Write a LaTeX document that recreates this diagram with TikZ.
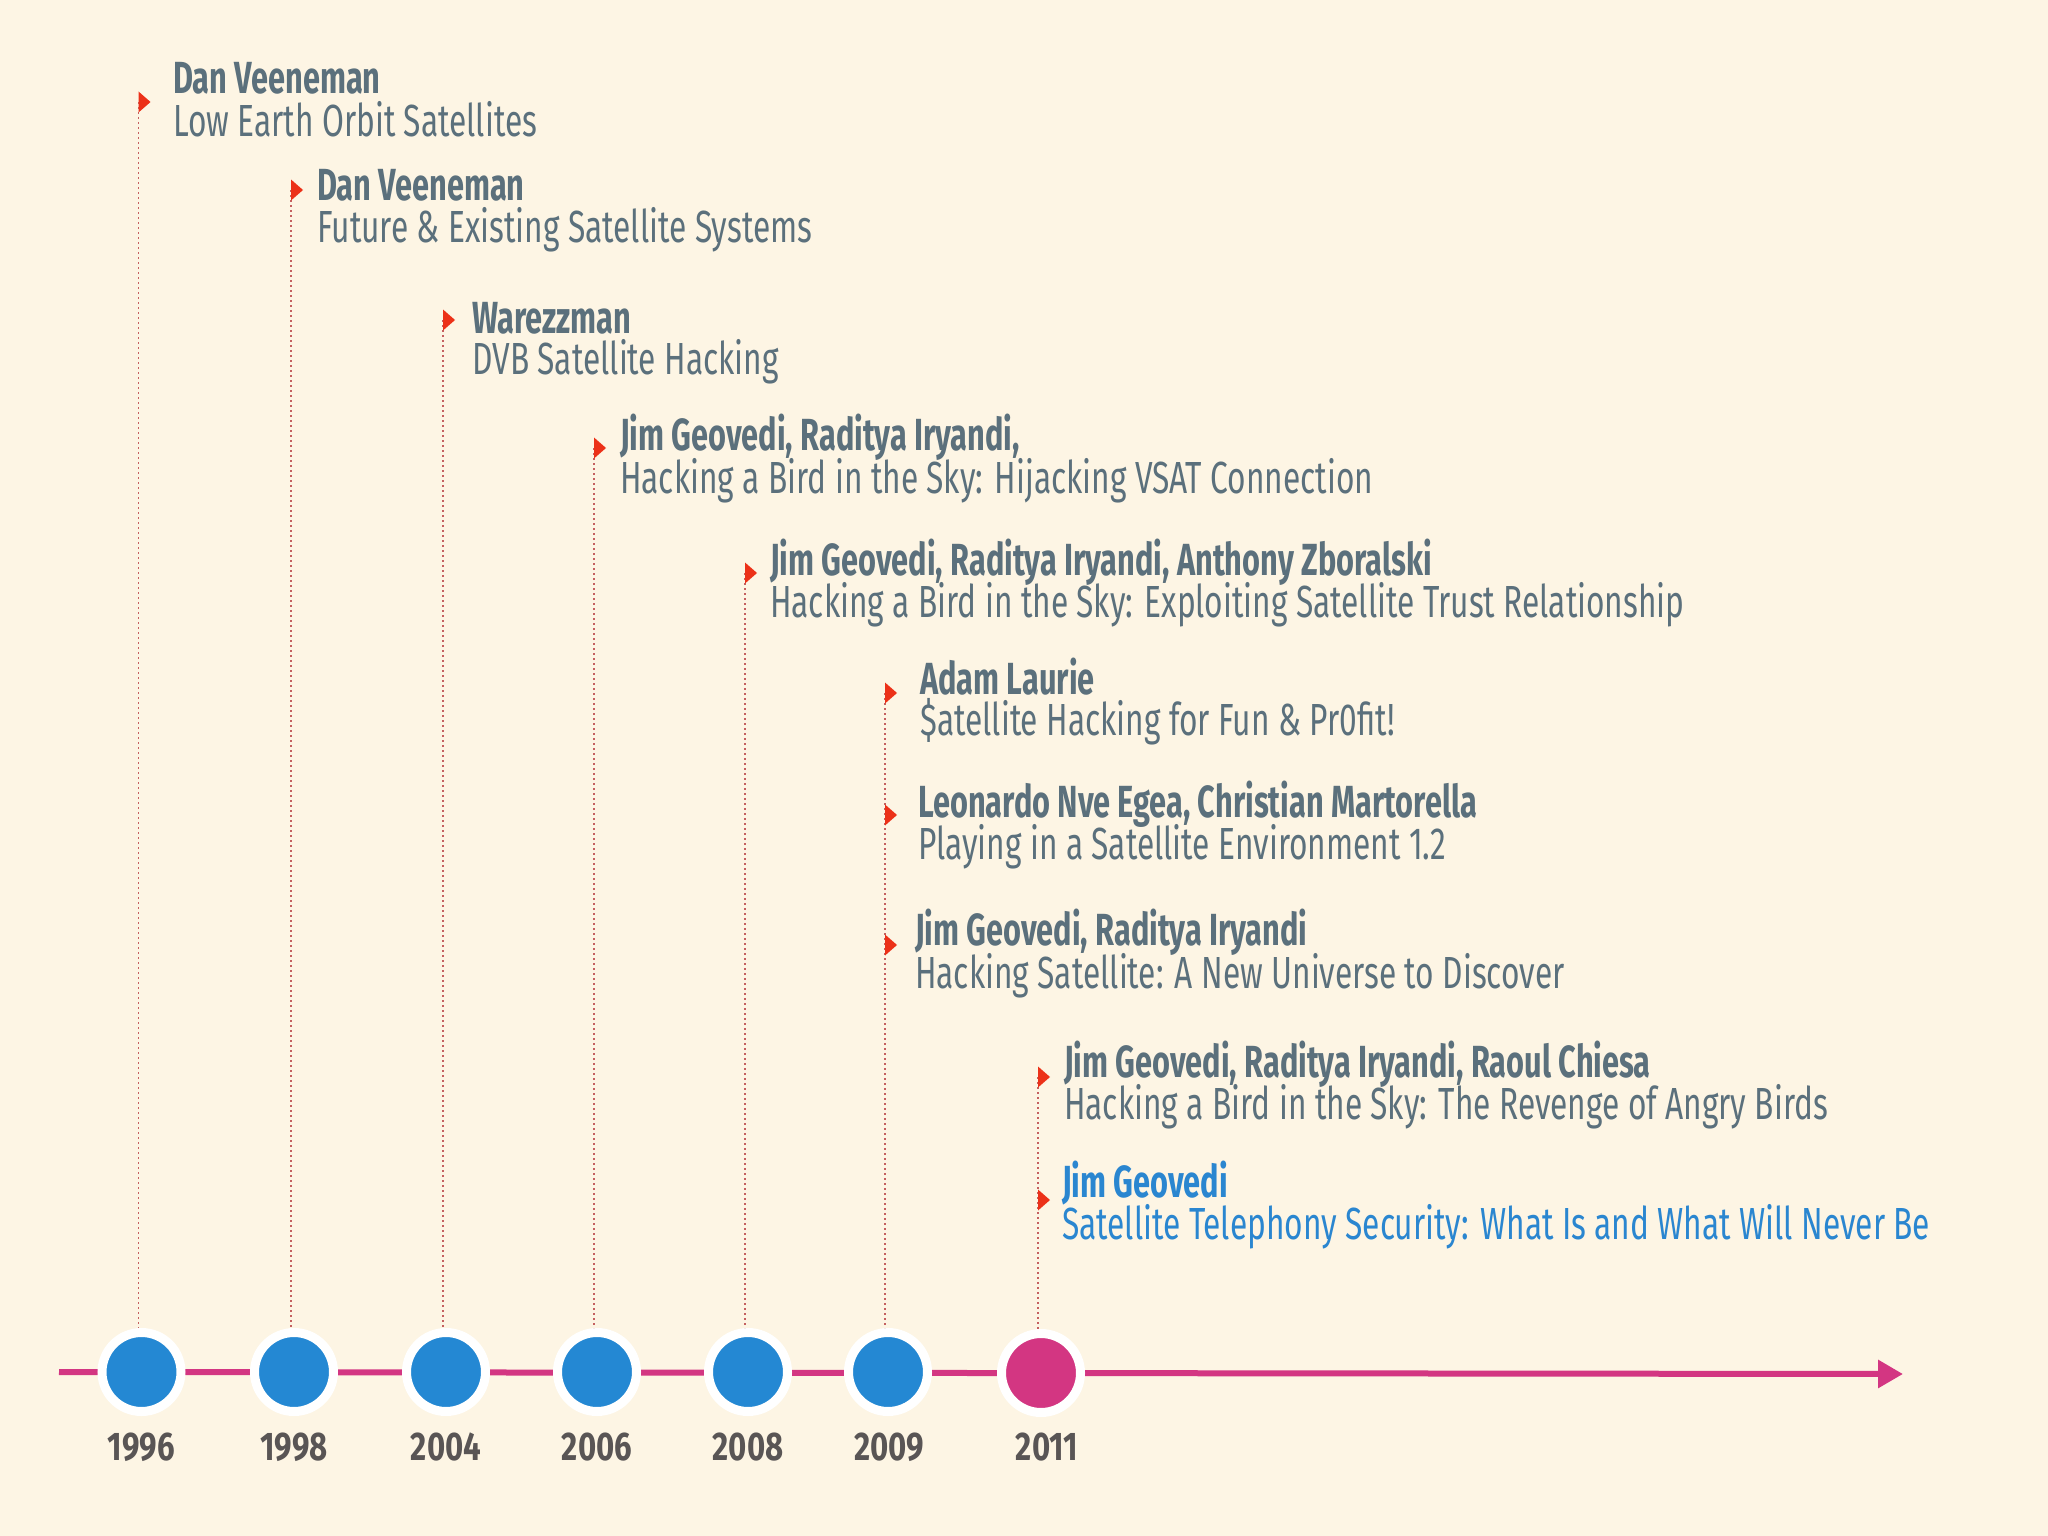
\documentclass[tikz,border=0pt]{standalone}
\usepackage{fontspec}
\setmainfont{Fira Sans}
\newfontfamily\titlefont[FakeStretch=0.704]{Fira Sans}
\newfontfamily\authfont[FakeStretch=0.683]{Fira Sans}
\newfontfamily\yearfont[FakeStretch=0.78]{Fira Sans}
\usetikzlibrary{arrows.meta}
\definecolor{bg}{HTML}{FDF5E4}
\definecolor{txt}{HTML}{5B707C}
\definecolor{hiblue}{HTML}{2A86D0}
\definecolor{evblue}{HTML}{2488D3}
\definecolor{magenta}{HTML}{D33682}
\definecolor{yeargray}{HTML}{595555}
\definecolor{dotred}{HTML}{C46060}
\definecolor{markred}{HTML}{EC3118}
\begin{document}
\begin{tikzpicture}[x=1pt,y=-1pt,
  auth/.style={anchor=base west, inner sep=0pt, text=txt, font=\authfont\bfseries\fontsize{45}{54}\selectfont},
  ttl/.style={anchor=base west, inner sep=0pt, text=txt, font=\titlefont\fontsize{45}{54}\selectfont},
  yr/.style={anchor=base, inner sep=0pt, text=yeargray, font=\yearfont\bfseries\fontsize{40}{48}\selectfont},
  leader/.style={draw=dotred, line width=1.6pt, dash pattern=on 2pt off 3pt},
  tri/.style={fill=markred},
  evt/.style={circle, fill=evblue, draw=white, line width=9pt, minimum size=79pt, inner sep=0pt},
  tl/.style={draw=magenta, line width=6pt, -{Triangle[length=25pt,width=27pt]}}
]
\fill[bg] (0,0) rectangle (2048,1536);
\useasboundingbox (0,0) rectangle (2048,1536);

% timeline
\coordinate (ts) at (59,1372);
\coordinate (te) at (1903,1374);
\draw[tl] (ts) -- (te);

% markers
\coordinate (m1) at (138.5,102);
\coordinate (m2) at (291,190);
\coordinate (m3) at (443,320);
\coordinate (m4) at (594,448);
\coordinate (m5) at (745,573);
\coordinate (m6) at (885,693);
\coordinate (m7) at (885,815);
\coordinate (m8) at (885,945);
\coordinate (m9) at (1038,1077);
\coordinate (m10) at (1038,1200);

% event circles
\node[evt] (c1) at (141.5,1372) {};
\node[evt] (c2) at (294,1372) {};
\node[evt] (c3) at (446,1372) {};
\node[evt] (c4) at (597,1372) {};
\node[evt] (c5) at (748,1372) {};
\node[evt] (c6) at (888,1372) {};
\node[evt, fill=magenta] (c7) at (1041,1373) {};

% leaders
\draw[leader] (m1) -- (m1 |- c1.north);
\draw[leader] (m2) -- (m2 |- c2.north);
\draw[leader] (m3) -- (m3 |- c3.north);
\draw[leader] (m4) -- (m4 |- c4.north);
\draw[leader] (m5) -- (m5 |- c5.north);
\draw[leader] (m6) -- (m6 |- c6.north);
\draw[leader] (m9) -- (m9 |- c7.north);

% triangles
\foreach \m in {m1,m2,m3,m4,m5,m6,m7,m8,m9,m10}
  \fill[tri, shift={(\m)}] (0,-10.5) -- (12,0) -- (0,10.5) -- cycle;

% years
\node[yr] (y1) at (141.5,1460) {1996};
\node[yr] (y2) at (294,1460) {1998};
\node[yr] (y3) at (446,1460) {2004};
\node[yr] (y4) at (597,1460) {2006};
\node[yr] (y5) at (748,1460) {2008};
\node[yr] (y6) at (889,1460) {2009};
\node[yr] (y7) at (1047,1460) {2011};

% entries
\node[auth] (a1) at (173,94) {Dan Veeneman};
\node[ttl]  (t1) at (173,136) {Low Earth Orbit Satellites};
\node[auth] (a2) at (317,200) {Dan Veeneman};
\node[ttl]  (t2) at (317,242) {Future \& Existing Satellite Systems};
\node[auth] (a3) at (472,333) {Warezzman};
\node[ttl]  (t3) at (472,374) {DVB Satellite Hacking};
\node[auth] (a4) at (620,450) {Jim Geovedi, Raditya Iryandi,};
\node[ttl]  (t4) at (620,493) {Hacking a Bird in the Sky: Hijacking VSAT Connection};
\node[auth] (a5) at (770,575) {Jim Geovedi, Raditya Iryandi, Anthony Zboralski};
\node[ttl]  (t5) at (770,617) {Hacking a Bird in the Sky: Exploiting Satellite Trust Relationship};
\node[auth] (a6) at (920,694) {Adam Laurie};
\node[ttl]  (t6) at (920,735) {\$atellite Hacking for Fun \& Pr0fit!};
\node[auth] (a7) at (918,817) {Leonardo Nve Egea, Christian Martorella};
\node[ttl]  (t7) at (918,859) {Playing in a Satellite Environment 1.2};
\node[auth] (a8) at (915,945) {Jim Geovedi, Raditya Iryandi};
\node[ttl]  (t8) at (915,988) {Hacking Satellite: A New Universe to Discover};
\node[auth] (a9) at (1064,1077) {Jim Geovedi, Raditya Iryandi, Raoul Chiesa};
\node[ttl]  (t9) at (1064,1119) {Hacking a Bird in the Sky: The Revenge of Angry Birds};
\node[auth, text=hiblue] (a10) at (1062,1197) {Jim Geovedi};
\node[ttl, text=hiblue]  (t10) at (1062,1239) {Satellite Telephony Security: What Is and What Will Never Be};
\end{tikzpicture}
\end{document}
